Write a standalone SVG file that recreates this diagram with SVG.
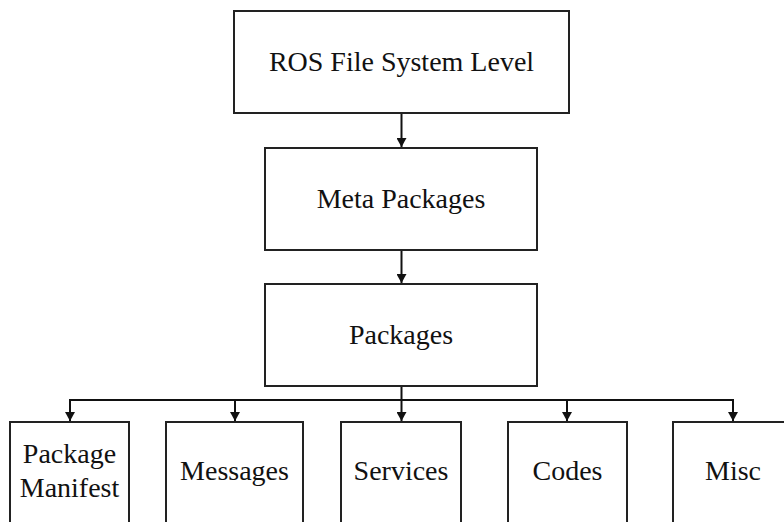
<svg xmlns="http://www.w3.org/2000/svg" width="784" height="522" viewBox="0 0 784 522">
<style>
.box{fill:#fff;stroke:#222;stroke-width:2}
.t{font-family:"Liberation Serif","Times New Roman",serif;font-size:28px;fill:#111;text-anchor:middle}
.c{stroke:#111;stroke-width:2;fill:none}
</style>
<defs>
<marker id="ah" markerWidth="10" markerHeight="10" refX="9" refY="5" orient="auto" markerUnits="userSpaceOnUse">
<path d="M0,0 L9,5 L0,10 Z" fill="#111"/>
</marker>
</defs>
<rect width="784" height="522" fill="#fff"/>
<g id="connectors">
<line class="c" x1="401.5" y1="113" x2="401.5" y2="147" marker-end="url(#ah)"/>
<line class="c" x1="401.5" y1="250" x2="401.5" y2="283" marker-end="url(#ah)"/>
<line class="c" x1="401.5" y1="386" x2="401.5" y2="421" marker-end="url(#ah)"/>
<line class="c" x1="69" y1="400" x2="734" y2="400"/>
<line class="c" x1="70" y1="399" x2="70" y2="421" marker-end="url(#ah)"/>
<line class="c" x1="235" y1="399" x2="235" y2="421" marker-end="url(#ah)"/>
<line class="c" x1="567" y1="399" x2="567" y2="421" marker-end="url(#ah)"/>
<line class="c" x1="733" y1="399" x2="733" y2="421" marker-end="url(#ah)"/>
</g>
<g id="ros"><rect class="box" x="234" y="11" width="335" height="102"/><text class="t" x="401.5" y="71">ROS File System Level</text></g>
<g id="meta"><rect class="box" x="265" y="148" width="272" height="102"/><text class="t" x="401" y="208">Meta Packages</text></g>
<g id="packages"><rect class="box" x="265" y="284" width="272" height="102"/><text class="t" x="401" y="344">Packages</text></g>
<g id="manifest"><rect class="box" x="10" y="422" width="119" height="110"/><text class="t" x="69.5" y="463">Package</text><text class="t" x="69.5" y="497">Manifest</text></g>
<g id="messages"><rect class="box" x="166" y="422" width="137" height="110"/><text class="t" x="234.5" y="480">Messages</text></g>
<g id="services"><rect class="box" x="341" y="422" width="120" height="110"/><text class="t" x="401" y="480">Services</text></g>
<g id="codes"><rect class="box" x="508" y="422" width="119" height="110"/><text class="t" x="567.5" y="480">Codes</text></g>
<g id="misc"><rect class="box" x="673" y="422" width="130" height="110"/><text class="t" x="733" y="480">Misc</text></g>
</svg>
